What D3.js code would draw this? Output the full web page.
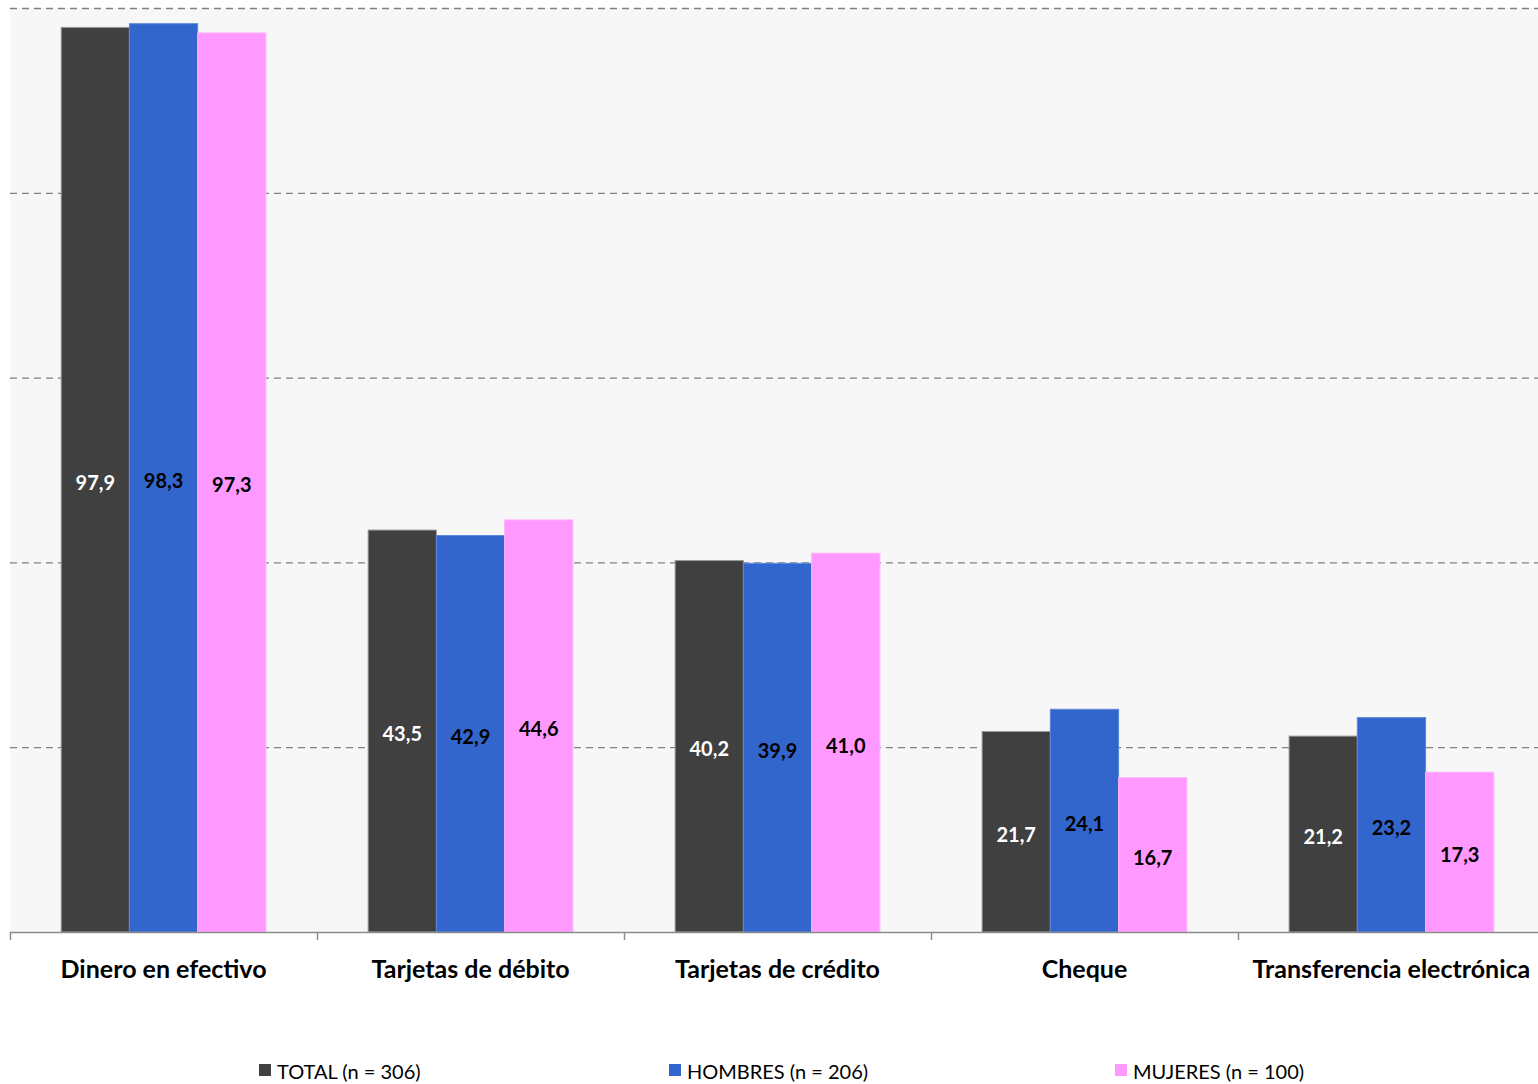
<!DOCTYPE html>
<html><head><meta charset="utf-8">
<script src="https://cdn.jsdelivr.net/npm/d3@7"></script>
<style>
html,body{margin:0;padding:0;background:#fff;}
svg{display:block;}
</style></head>
<body>
<script>
const categories = ["Dinero en efectivo","Tarjetas de débito","Tarjetas de crédito","Cheque","Transferencia electrónica"];
const seriesNames = ["TOTAL (n = 306)","HOMBRES (n = 206)","MUJERES (n = 100)"];
const total = [97.9, 43.5, 40.2, 21.7, 21.2];
const hombres = [98.3, 42.9, 39.9, 24.1, 23.2];
const mujeres = [97.3, 44.6, 41.0, 16.7, 17.3];
const yTicks = [0, 20, 40, 60, 80, 100];

const series = [total, hombres, mujeres];
const colors = ["#404040", "#3366cc", "#ff99ff"];
const strokes = ["#9a9a9a", "#5a86dd", "#ffb3ff"];
const labelColors = ["#ffffff", "#000000", "#000000"];

const W = 1538, H = 1084;
const mLeft = 10, mRight = 1545, mTop = 8, mBottom = 932;
const svg = d3.select("body").append("svg").attr("width", W).attr("height", H);

svg.append("rect").attr("x", mLeft).attr("y", mTop).attr("width", W - mLeft).attr("height", mBottom - mTop).attr("fill", "#f7f7f7");

const x0 = d3.scaleBand().domain(categories).range([mLeft, mRight]).paddingInner(0.333).paddingOuter(0.1667);
const x1 = d3.scaleBand().domain(d3.range(series.length)).range([0, x0.bandwidth()]);
const y = d3.scaleLinear().domain([0, 100]).range([mBottom, mTop]);

// gridlines
svg.append("g").selectAll("line").data(yTicks.filter(t => t > 0)).join("line")
  .attr("x1", mLeft).attr("x2", W).attr("y1", d => y(d) + 0.5).attr("y2", d => y(d) + 0.5)
  .attr("stroke", "#808080").attr("stroke-width", 1.3).attr("stroke-dasharray", "7,5");

// bars
const groups = svg.append("g").selectAll("g").data(categories).join("g")
  .attr("transform", d => `translate(${x0(d)},0)`);
groups.selectAll("rect").data((d, i) => series.map((s, j) => ({j, v: s[i]}))).join("rect")
  .attr("x", d => x1(d.j)).attr("width", x1.bandwidth())
  .attr("y", d => y(d.v)).attr("height", d => mBottom - y(d.v))
  .attr("fill", d => colors[d.j]).attr("stroke", d => strokes[d.j]).attr("stroke-width", 1);
groups.selectAll("text").data((d, i) => series.map((s, j) => ({j, v: s[i]}))).join("text")
  .attr("x", d => x1(d.j) + x1.bandwidth() / 2)
  .attr("y", d => (y(d.v) + mBottom) / 2 + 3)
  .attr("dy", "0.35em").attr("text-anchor", "middle")
  .attr("font-family", "Lato, 'Open Sans', sans-serif").attr("font-weight", "bold").attr("font-size", 20)
  .attr("fill", d => labelColors[d.j])
  .text(d => d3.format(".1f")(d.v).replace(".", ","));

// axis
const xAxisBoundaries = categories.map(c => x0(c) - x0.step() * x0.paddingInner() / 2);
const axisG = svg.append("g");
axisG.append("line").attr("x1", mLeft).attr("x2", W).attr("y1", mBottom + 0.5).attr("y2", mBottom + 0.5)
  .attr("stroke", "#8c8c8c").attr("stroke-width", 1.5);
axisG.selectAll("line.tick").data(xAxisBoundaries.concat([mRight])).join("line").attr("class", "tick")
  .attr("x1", d => Math.round(d) + 0.5).attr("x2", d => Math.round(d) + 0.5)
  .attr("y1", mBottom).attr("y2", mBottom + 8).attr("stroke", "#8c8c8c").attr("stroke-width", 1.5);
axisG.selectAll("text").data(categories).join("text")
  .attr("x", d => x0(d) + x0.bandwidth() / 2).attr("y", 978)
  .attr("text-anchor", "middle")
  .attr("font-family", "Lato, 'Open Sans', sans-serif").attr("font-weight", "bold").attr("font-size", 25)
  .attr("fill", "#000").text(d => d);

// legend
const legendX = [259, 669, 1115];
const leg = svg.append("g").selectAll("g").data(seriesNames).join("g")
  .attr("transform", (d, i) => `translate(${legendX[i]},1064)`);
leg.append("rect").attr("width", 12).attr("height", 12).attr("fill", (d, i) => colors[i]);
leg.append("text").attr("x", 18).attr("y", 15)
  .attr("font-family", "Lato, 'Open Sans', sans-serif").attr("font-size", 20).attr("fill", "#000")
  .text(d => d);
</script>
</body></html>
